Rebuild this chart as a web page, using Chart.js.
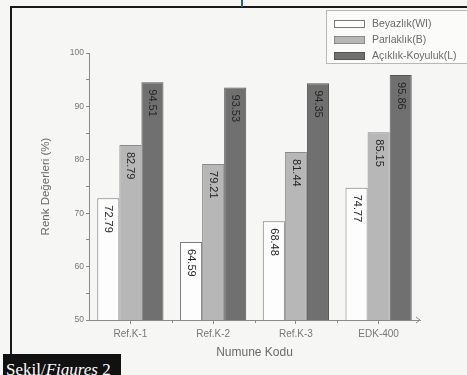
<!DOCTYPE html>
<html>
<head>
<meta charset="utf-8">
<script src="https://cdn.jsdelivr.net/npm/chart.js@4.4.1/dist/chart.umd.min.js"></script>
<style>
  html, body { margin: 0; padding: 0; background: #f6f6f4; }
  #wrap { position: relative; width: 467px; height: 375px; overflow: hidden; background: #f6f6f4; }
  #chart { position: absolute; left: 0; top: 0; filter: blur(0.6px); }
  #frameTop { position: absolute; left: 10px; top: 6px; width: 460px; height: 2px; background: #1a1a1a; }
  #frameLeft { position: absolute; left: 10px; top: 6px; width: 2px; height: 350px; background: #1a1a1a; }
  #blueMark { position: absolute; left: 241px; top: 0; width: 2px; height: 7px; background: #1d5fa6; }
  #legend { position: absolute; left: 326px; top: 10px; width: 150px; height: 54px; border: 1px solid #b8b8b8;
            background: #fbfbfa; font-family: "Liberation Sans", Arial, sans-serif; font-size: 10.5px; color: #6a6a6a;
            filter: blur(0.6px); box-sizing: border-box; }
  .item { position: absolute; left: 7px; height: 10px; white-space: nowrap; }
  .sw { position: absolute; left: 0; top: 1px; width: 31px; height: 8px; box-sizing: border-box; border: 1px solid #888; }
  .lbl { position: absolute; left: 38px; top: -2px; }
  #fig { position: absolute; left: 3px; top: 354px; width: 118px; height: 26px; background: #111; color: #fff;
         font-family: "Liberation Serif", "DejaVu Serif", serif; font-size: 17px; line-height: 31px; padding-left: 3px; box-sizing: border-box; white-space: nowrap; overflow: hidden; }
</style>
</head>
<body>
<div id="wrap">
  <canvas id="chart" width="467" height="375"></canvas>
  <div id="frameTop"></div>
  <div id="frameLeft"></div>
  <div id="blueMark"></div>
  <div id="legend"></div>
  <div id="fig">Şekil/<i>Figures</i> 2</div>
</div>
<script>
// Sample codes and measured colour values (%)
const categories = ['Ref.K-1', 'Ref.K-2', 'Ref.K-3', 'EDK-400'];
const seriesNames = ['Beyazlık(WI)', 'Parlaklık(B)', 'Açıklık-Koyuluk(L)'];
const whiteness = [72.79, 64.59, 68.48, 74.77];
const brightness = [82.79, 79.21, 81.44, 85.15];
const lightness = [94.51, 93.53, 94.35, 95.86];
const yTicks = [50, 60, 70, 80, 90, 100];

const fills = ['#fdfdfd', '#b7b7b7', '#707070'];
const borders = ['#7a7a7a', '#8a8a8a', '#555555'];
const seriesValues = [whiteness, brightness, lightness];
const FONT = '"Liberation Sans", Arial, sans-serif';

// HTML legend built from the series
const legendEl = document.getElementById('legend');
seriesNames.forEach((name, i) => {
  const it = document.createElement('div');
  it.className = 'item';
  it.style.top = (8 + i * 16) + 'px';
  it.innerHTML = '<div class="sw" style="background:' + fills[i] + ';border-color:' + borders[i] + '"></div><div class="lbl"></div>';
  it.querySelector('.lbl').textContent = name;
  legendEl.appendChild(it);
});

// Rotated value labels inside the top of each bar
const valueLabels = {
  id: 'valueLabels',
  afterDatasetsDraw(chart) {
    const ctx = chart.ctx;
    ctx.save();
    ctx.font = '11px ' + FONT;
    ctx.fillStyle = '#262626';
    ctx.textBaseline = 'middle';
    ctx.textAlign = 'left';
    chart.data.datasets.forEach((ds, di) => {
      chart.getDatasetMeta(di).data.forEach((bar, i) => {
        ctx.save();
        ctx.translate(bar.x, bar.y + 7);
        ctx.rotate(Math.PI / 2);
        ctx.fillText(ds.data[i].toFixed(2), 0, 0);
        ctx.restore();
      });
    });
    ctx.restore();
  }
};

// Category boundary ticks and the arrow at the end of the x axis
const axisExtras = {
  id: 'axisExtras',
  afterDraw(chart) {
    const ctx = chart.ctx;
    const xs = chart.scales.x, ys = chart.scales.y;
    const yb = ys.getPixelForValue(50);
    ctx.save();
    ctx.strokeStyle = '#8a8a8a';
    ctx.lineWidth = 1;
    for (let i = 1; i < categories.length; i++) {
      const x = Math.round((xs.getPixelForValue(i - 1) + xs.getPixelForValue(i)) / 2) + 0.5;
      ctx.beginPath(); ctx.moveTo(x, yb); ctx.lineTo(x, yb + 3); ctx.stroke();
    }
    const xe = chart.chartArea.right;
    ctx.beginPath();
    ctx.moveTo(xe - 4, yb - 3); ctx.lineTo(xe, yb); ctx.lineTo(xe - 4, yb + 3);
    ctx.stroke();
    ctx.restore();
  }
};

new Chart(document.getElementById('chart'), {
  type: 'bar',
  data: {
    labels: categories,
    datasets: seriesNames.map((name, i) => ({
      label: name,
      data: seriesValues[i],
      backgroundColor: fills[i],
      borderColor: borders[i],
      borderWidth: 1,
      borderSkipped: 'bottom',
      categoryPercentage: 0.8,
      barPercentage: 1.0
    }))
  },
  options: {
    responsive: false,
    animation: false,
    devicePixelRatio: 1,
    layout: { padding: { left: 39, right: 47, top: 53, bottom: 15 } },
    plugins: { legend: { display: false }, tooltip: { enabled: false } },
    scales: {
      x: {
        afterFit(scale) { scale.height = 40; },
        grid: { display: true, drawOnChartArea: false, offset: false, tickLength: 4, color: '#8a8a8a' },
        border: { display: true, color: '#8a8a8a', width: 1 },
        ticks: { color: '#777', font: { family: FONT, size: 10 }, padding: 4, maxRotation: 0 },
        title: { display: true, text: 'Numune Kodu', color: '#6a6a6a',
                 font: { family: FONT, size: 12 }, padding: { top: 0, bottom: 0 } }
      },
      y: {
        min: 50, max: 100,
        afterFit(scale) { scale.width = 50; },
        afterBuildTicks(scale) {
          const t = [];
          for (let v = 50; v <= 100; v += 5) t.push({ value: v });
          scale.ticks = t;
        },
        grid: { display: true, drawOnChartArea: false, tickLength: 3, color: '#8a8a8a' },
        border: { display: true, color: '#8a8a8a', width: 1 },
        ticks: {
          color: '#777', font: { family: FONT, size: 8.5 }, padding: 2,
          callback: (v) => yTicks.includes(v) ? String(v) : ''
        },
        title: { display: true, text: 'Renk Değerleri (%)', color: '#6a6a6a',
                 font: { family: FONT, size: 11.5 }, padding: { top: 0, bottom: 0 } }
      }
    }
  },
  plugins: [valueLabels, axisExtras]
});
</script>
</body>
</html>
